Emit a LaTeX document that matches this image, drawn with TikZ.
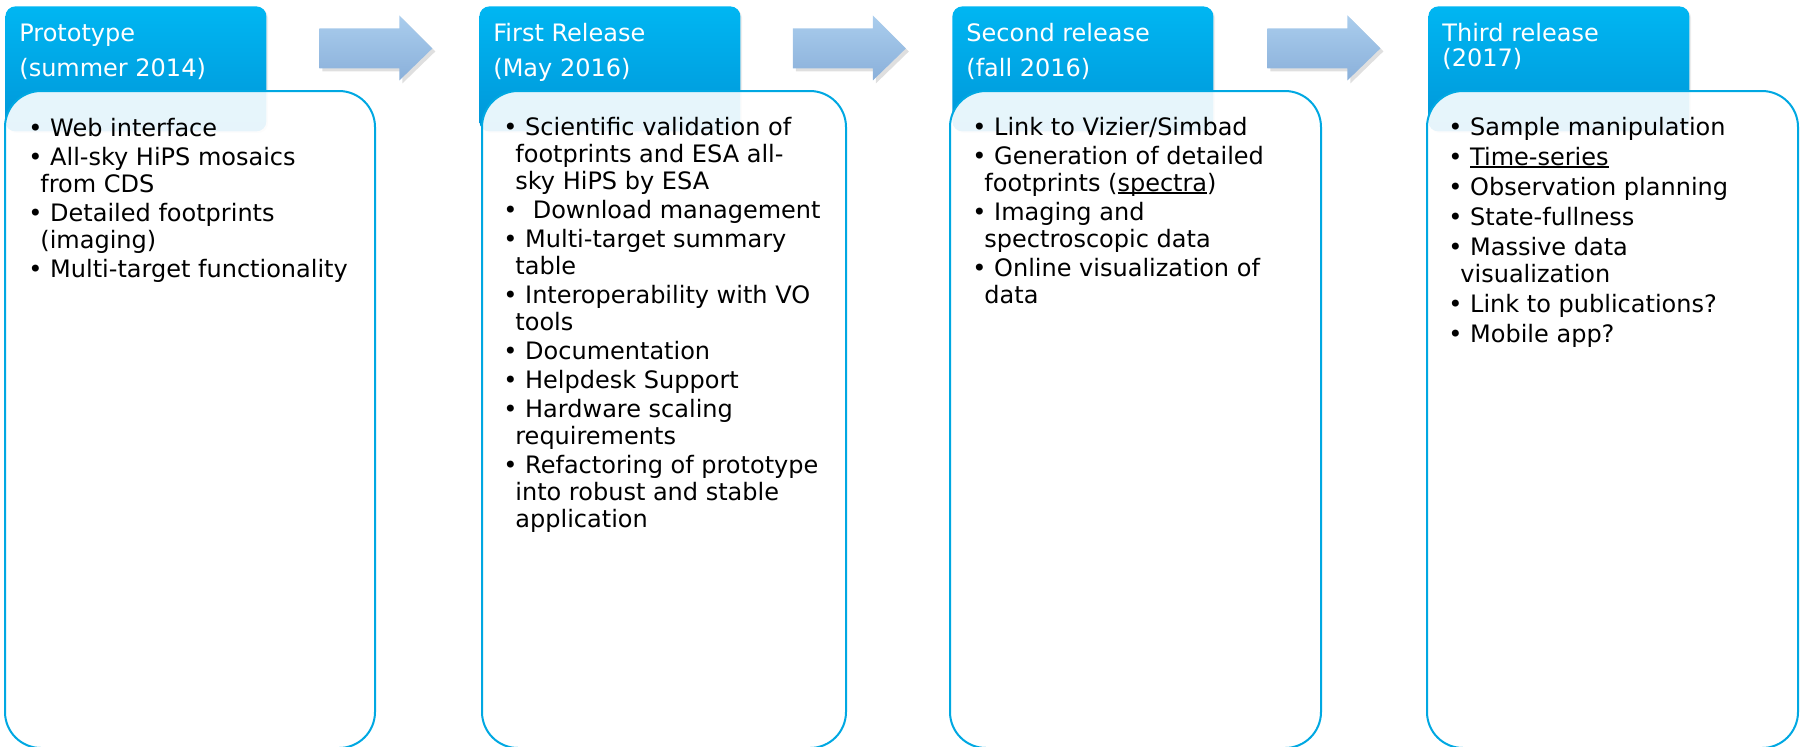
\documentclass[tikz,border=0pt]{standalone}
\usepackage{fontspec}
\setmainfont{DejaVu Sans}
\usetikzlibrary{shadows,calc}

\definecolor{hdrtop}{RGB}{0,182,242}
\definecolor{hdrbot}{RGB}{0,150,216}
\definecolor{boxline}{RGB}{0,168,226}
\definecolor{arrtop}{RGB}{170,205,237}
\definecolor{arrbot}{RGB}{138,176,218}

\newsavebox\ulbox
\newcommand{\ulword}[1]{\sbox\ulbox{#1}\rlap{\rule[-1.5pt]{\wd\ulbox}{1pt}}\usebox\ulbox}
\newcommand{\bul}{\textbullet\ }
\newcommand{\cont}{\hspace*{6pt}}
% first baseline on top: lines set in a [t] tabular
\newenvironment{lines}{\begin{tabular}[t]{@{}l@{}}}{\end{tabular}}

\tikzset{
  hdr/.style={rectangle, rounded corners=5pt, minimum width=130.5pt, minimum height=62.5pt,
    top color=hdrtop, bottom color=hdrbot, draw=none, anchor=north west,
    drop shadow={opacity=0.15, shadow xshift=0.8pt, shadow yshift=-0.8pt}},
  hdrtext/.style={anchor=base west, inner sep=0pt, text=white,
    font=\fontsize{12}{17.5}\selectfont},
  panel/.style={rectangle, rounded corners=18pt, minimum height=328.5pt, draw=boxline,
    line width=1pt, fill=white, fill opacity=0.9, anchor=north west},
  items/.style={anchor=base west, inner sep=0pt,
    font=\fontsize{12}{13.5}\selectfont},
  blockarrow/.style={top color=arrtop, bottom color=arrbot, draw=none,
    drop shadow={opacity=0.25, shadow xshift=1.5pt, shadow yshift=-1.5pt}}
}

\begin{document}
\begin{tikzpicture}[x=0.5pt, y=-0.5pt]
  \useasboundingbox (0,0) rectangle (1801,746);

  % Headers
  \node[hdr] (h1) at (5,6) {};
  \node[hdr] (h2) at (479,6) {};
  \node[hdr] (h3) at (952,6) {};
  \node[hdr] (h4) at (1428,6) {};

  % Panels
  \node[panel, minimum width=185pt] (b1) at (4,90) {};
  \node[panel, minimum width=182pt] (b2) at (481,90) {};
  \node[panel, minimum width=185.5pt] (b3) at (949,90) {};
  \node[panel, minimum width=185.5pt] (b4) at (1426,90) {};

  % Titles
  \node[hdrtext] (t1) at ($(h1.north west)+(14,35)$) {\begin{lines}Prototype\\(summer 2014)\end{lines}};
  \node[hdrtext] (t2) at ($(h2.north west)+(14,35)$) {\begin{lines}First Release\\(May 2016)\end{lines}};
  \node[hdrtext] (t3) at ($(h3.north west)+(14,35)$) {\begin{lines}Second release\\(fall 2016)\end{lines}};
  \node[hdrtext, font=\fontsize{12}{11.5}\selectfont] (t4) at ($(h4.north west)+(14,35)$) {\begin{lines}Third release\\(2017)\end{lines}};

  % Items
  \node[items] (l1) at ($(b1.north west)+(24,46)$) {\begin{lines}\bul Web interface\\[1pt]
    \bul All-sky HiPS mosaics\\
    \cont from CDS\\[1pt]
    \bul Detailed footprints\\
    \cont (imaging)\\[1pt]
    \bul Multi-target functionality\end{lines}};
  \node[items] (l2) at ($(b2.north west)+(22,45)$) {\begin{lines}\bul Scientific validation of\\
    \cont footprints and ESA all-\\
    \cont sky HiPS by ESA\\[1pt]
    \bul\ Download management\\[1pt]
    \bul Multi-target summary\\
    \cont table\\[1pt]
    \bul Interoperability with VO\\
    \cont tools\\[1pt]
    \bul Documentation\\[1pt]
    \bul Helpdesk Support\\[1pt]
    \bul Hardware scaling\\
    \cont requirements\\[1pt]
    \bul Refactoring of prototype\\
    \cont into robust and stable\\
    \cont application\end{lines}};
  \node[items] (l3) at ($(b3.north west)+(23,45)$) {\begin{lines}\bul Link to Vizier/Simbad\\[1pt]
    \bul Generation of detailed\\
    \cont footprints (\ulword{spectra})\\[1pt]
    \bul Imaging and\\
    \cont spectroscopic data\\[1pt]
    \bul Online visualization of\\
    \cont data\end{lines}};
  \node[items] (l4) at ($(b4.north west)+(22,45)$) {\begin{lines}\bul Sample manipulation\\[1.5pt]
    \bul \ulword{Time-series}\\[1.5pt]
    \bul Observation planning\\[1.5pt]
    \bul State-fullness\\[1.5pt]
    \bul Massive data\\
    \cont visualization\\[1.5pt]
    \bul Link to publications?\\[1.5pt]
    \bul Mobile app?\end{lines}};

  % Arrows between the headers
  \coordinate (a1) at ($(h1.east)!0.5!(h2.west)+(3,-20.5)$);
  \coordinate (a2) at ($(h2.east)!0.5!(h3.west)+(3,-20.5)$);
  \coordinate (a3) at ($(h3.east)!0.5!(h4.west)+(3,-20.5)$);
  \path[blockarrow] (a1) ++(-56.5,-20) -- ++(80,0) -- ++(0,-13) -- ++(33,33) -- ++(-33,32) -- ++(0,-12) -- ++(-80,0) -- cycle;
  \path[blockarrow] (a2) ++(-56.5,-20) -- ++(80,0) -- ++(0,-13) -- ++(33,33) -- ++(-33,32) -- ++(0,-12) -- ++(-80,0) -- cycle;
  \path[blockarrow] (a3) ++(-56.5,-20) -- ++(80,0) -- ++(0,-13) -- ++(33,33) -- ++(-33,32) -- ++(0,-12) -- ++(-80,0) -- cycle;
\end{tikzpicture}
\end{document}
